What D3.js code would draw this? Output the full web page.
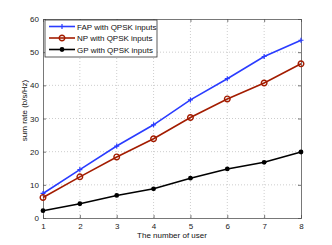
<!DOCTYPE html>
<html>
<head>
<meta charset="utf-8">
<script src="https://cdn.jsdelivr.net/npm/d3@7"></script>
<style>
  body { margin: 0; background: #fff; }
  svg { display: block; font-family: "Liberation Sans", Arial, sans-serif; }
</style>
</head>
<body>
<svg id="chart" width="332" height="245"></svg>
<script>
// data
var users = [1, 2, 3, 4, 5, 6, 7, 8];
var fapRate = [7.4, 14.6, 21.7, 28.1, 35.6, 42.0, 48.7, 53.6];
var npRate = [6.2, 12.4, 18.4, 23.9, 30.3, 35.9, 40.7, 46.5];
var gpRate = [2.2, 4.3, 6.8, 8.8, 12.0, 14.8, 16.8, 19.9];
var yTicks = [0, 10, 20, 30, 40, 50, 60];
var seriesNames = ["FAP with QPSK inputs", "NP with QPSK inputs", "GP with QPSK inputs"];

var svg = d3.select("#chart");
var margin = { left: 43, right: 31, top: 19, bottom: 27 };
var width = 332, height = 245;
var fs = 8;

var x = d3.scaleLinear().domain([1, 8]).range([margin.left, width - margin.right]);
var y = d3.scaleLinear().domain([0, 60]).range([height - margin.bottom, margin.top]);

// grid
var grid = svg.append("g");
grid.selectAll("line.gx").data(users.slice(1, -1)).enter()
    .append("line")
    .attr("x1", function (d) { return x(d); })
    .attr("x2", function (d) { return x(d); })
    .attr("y1", y(0)).attr("y2", y(60))
    .attr("stroke", "#b8b8b8").attr("stroke-width", 0.7)
    .attr("stroke-dasharray", "1,2");
grid.selectAll("line.gy").data(yTicks.slice(1, -1)).enter()
    .append("line")
    .attr("y1", function (d) { return y(d); })
    .attr("y2", function (d) { return y(d); })
    .attr("x1", x(1)).attr("x2", x(8))
    .attr("stroke", "#b8b8b8").attr("stroke-width", 0.7)
    .attr("stroke-dasharray", "1,2");

// axes
var xAxis = d3.axisBottom(x).tickValues(users).tickFormat(d3.format("d")).tickSize(-3).tickPadding(5);
var yAxis = d3.axisLeft(y).tickValues(yTicks).tickFormat(d3.format("d")).tickSize(-3).tickPadding(4);
var xTop = d3.axisTop(x).tickValues(users).tickSize(-3).tickFormat("");
var yRight = d3.axisRight(y).tickValues(yTicks).tickSize(-3).tickFormat("");

function styleAxis(g) {
    g.select(".domain").attr("stroke", "#555").attr("stroke-width", 0.8);
    g.selectAll(".tick line").attr("stroke", "#555").attr("stroke-width", 0.8);
    g.selectAll(".tick text").attr("font-size", fs).attr("fill", "#222")
        .attr("font-family", "Liberation Sans, Arial, sans-serif");
}
svg.append("g").attr("transform", "translate(0," + y(0) + ")").call(xAxis).call(styleAxis);
svg.append("g").attr("transform", "translate(" + x(1) + ",0)").call(yAxis).call(styleAxis);
svg.append("g").attr("transform", "translate(0," + y(60) + ")").call(xTop).call(styleAxis);
svg.append("g").attr("transform", "translate(" + x(8) + ",0)").call(yRight).call(styleAxis);

// series
var series = [
    { name: seriesNames[0], values: fapRate, color: "#2a3cff", marker: "plus" },
    { name: seriesNames[1], values: npRate, color: "#a31c00", marker: "ocircle" },
    { name: seriesNames[2], values: gpRate, color: "#000000", marker: "dot" }
];

var line = d3.line()
    .x(function (d, i) { return x(users[i]); })
    .y(function (d) { return y(d); });

function drawMarker(g, type, color) {
    if (type === "plus") {
        g.append("path").attr("d", "M-2.5,0H2.5M0,-2.5V2.5")
            .attr("stroke", color).attr("stroke-width", 1.2).attr("fill", "none");
    } else if (type === "ocircle") {
        g.append("circle").attr("r", 2.8)
            .attr("stroke", color).attr("stroke-width", 1.4).attr("fill", "none");
    } else {
        g.append("circle").attr("r", 2.4).attr("fill", color);
    }
}

series.forEach(function (s) {
    var g = svg.append("g");
    g.append("path").datum(s.values)
        .attr("d", line)
        .attr("fill", "none")
        .attr("stroke", s.color)
        .attr("stroke-width", 1.6);
    g.selectAll("g.m").data(s.values).enter()
        .append("g")
        .attr("transform", function (d, i) { return "translate(" + x(users[i]) + "," + y(d) + ")"; })
        .each(function () { drawMarker(d3.select(this), s.marker, s.color); });
});

// legend
var legend = svg.append("g").attr("transform", "translate(45,20)");
legend.append("rect").attr("width", 112).attr("height", 37)
    .attr("fill", "#fff").attr("stroke", "#333").attr("stroke-width", 0.8);
series.forEach(function (s, i) {
    var ly = 6.5 + i * 11.5;
    var row = legend.append("g").attr("transform", "translate(0," + ly + ")");
    row.append("line").attr("x1", 4).attr("x2", 30).attr("y1", 0).attr("y2", 0)
        .attr("stroke", s.color).attr("stroke-width", 1.6);
    var m = row.append("g").attr("transform", "translate(17,0)");
    drawMarker(m, s.marker, s.color);
    row.append("text").attr("x", 32).attr("y", 3)
        .attr("font-size", fs).attr("fill", "#111").text(s.name);
});

// labels
svg.append("text")
    .attr("x", (x(1) + x(8)) / 2).attr("y", 238)
    .attr("text-anchor", "middle").attr("font-size", fs).attr("fill", "#111")
    .text("The number of user");
svg.append("text")
    .attr("transform", "translate(27," + ((y(0) + y(60)) / 2 - 8) + ") rotate(-90)")
    .attr("text-anchor", "middle").attr("font-size", fs).attr("fill", "#111")
    .text("sum rate (b/s/Hz)");
</script>
</body>
</html>
